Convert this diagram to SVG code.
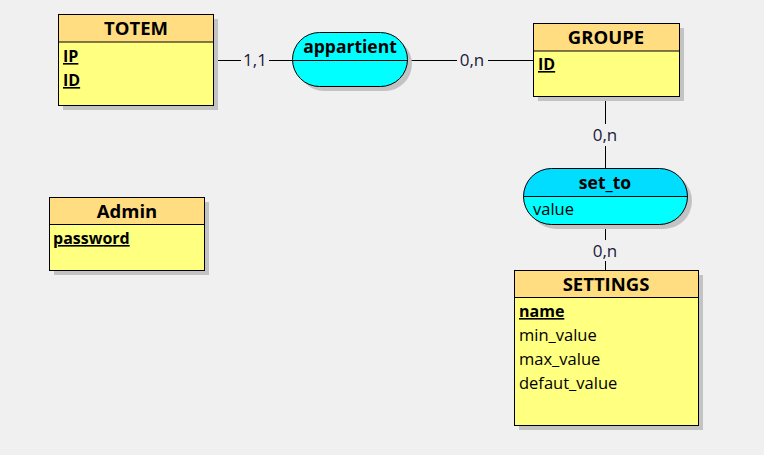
<svg xmlns="http://www.w3.org/2000/svg" width="764" height="455" viewBox="0 0 764 455">
<style>
text{font-family:"Open Sans","Noto Sans","DejaVu Sans",sans-serif;fill:#000}
.sh{fill:#c3c3c3}
.hd{fill:#ffdd80;stroke:#000;stroke-width:1}
.bd{fill:#ffff80;stroke:#000;stroke-width:1}
.t{font-size:18.5px;font-weight:bold;text-anchor:middle}
.k{font-size:16px;font-weight:bold;text-decoration:underline}
.a{font-size:16.5px}
.c{font-size:17px;text-anchor:middle;fill:#1a1a3a}
.ln{stroke:#000;stroke-width:1;fill:none}
.rh{fill:#00ddff;stroke:none}
.rb{fill:#00ffff;stroke:none}
.ro{fill:none;stroke:#000;stroke-width:1}
</style>
<rect width="764" height="455" fill="#f0f0f0"/>
<g id="connectors">
<path class="ln" d="M213.5 60.5H241M269 60.5H292M407 60.5H457M488 60.5H533M605.5 96V124M605.5 146V168M605.5 224V240M605.5 261V270"/>
<text class="c" x="255" y="66">1,1</text>
<text class="c" x="472" y="66">0,n</text>
<text class="c" x="605" y="141">0,n</text>
<text class="c" x="605" y="257">0,n</text>
</g>
<g id="TOTEM">
<rect class="sh" x="63" y="19" width="155" height="91"/>
<rect class="bd" x="58.5" y="14.5" width="155" height="91"/>
<rect class="hd" x="58.5" y="14.5" width="155" height="27.5"/>
<text class="t" x="136" y="35">TOTEM</text>
<text class="k" x="63" y="62">IP</text>
<text class="k" x="63" y="86">ID</text>
</g>
<g id="appartient">
<rect class="sh" x="297" y="37" width="115" height="54" rx="27"/>
<rect class="rb" x="292.5" y="32.5" width="115" height="54" rx="27"/>
<rect class="ro" x="292.5" y="32.5" width="115" height="54" rx="27"/>
<line class="ln" x1="292.5" y1="60.5" x2="407.5" y2="60.5"/>
<text class="t" x="350" y="53" style="font-size:17.5px">appartient</text>
</g>
<g id="GROUPE">
<rect class="sh" x="538" y="28" width="146" height="73"/>
<rect class="bd" x="533.5" y="23.5" width="146" height="73"/>
<rect class="hd" x="533.5" y="23.5" width="146" height="27.5"/>
<text class="t" x="606" y="44">GROUPE</text>
<text class="k" x="538" y="70">ID</text>
</g>
<g id="Admin">
<rect class="sh" x="54" y="202" width="155" height="73"/>
<rect class="bd" x="49.5" y="197.5" width="155" height="73"/>
<rect class="hd" x="49.5" y="197.5" width="155" height="27"/>
<text class="t" x="127" y="218">Admin</text>
<text class="k" x="53" y="244">password</text>
</g>
<g id="set_to">
<rect class="sh" x="528" y="173" width="164" height="56" rx="28"/>
<path class="rb" d="M523.5 196.5H687.5A28 28 0 0 1 659.5 224.5H551.5A28 28 0 0 1 523.5 196.5Z"/>
<path class="rh" d="M523.5 196.5A28 28 0 0 1 551.5 168.5H659.5A28 28 0 0 1 687.5 196.5Z"/>
<rect class="ro" x="523.5" y="168.5" width="164" height="56" rx="28"/>
<line class="ln" x1="523.5" y1="196.5" x2="687.5" y2="196.5"/>
<text class="t" x="605" y="189" style="font-size:17.5px">set_to</text>
<text class="a" x="533" y="215">value</text>
</g>
<g id="SETTINGS">
<rect class="sh" x="519" y="275" width="184" height="155"/>
<rect class="bd" x="514.5" y="270.5" width="184" height="155"/>
<rect class="hd" x="514.5" y="270.5" width="184" height="27"/>
<text class="t" x="606" y="291">SETTINGS</text>
<text class="k" x="519" y="317">name</text>
<text class="a" x="519" y="341">min_value</text>
<text class="a" x="519" y="365">max_value</text>
<text class="a" x="519" y="389">defaut_value</text>
</g>
</svg>
